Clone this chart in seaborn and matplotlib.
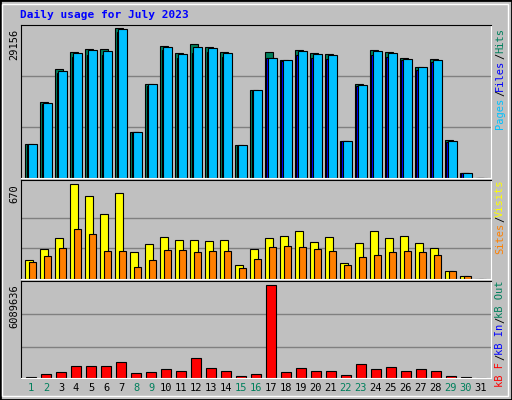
import matplotlib
matplotlib.use("Agg")
import matplotlib.pyplot as plt
import seaborn as sns
import numpy as np
from matplotlib.patches import Rectangle

days = list(range(1, 32))
hits = [6596,14709,21239,24405,24999,24999,29156,8971,18271,25593,24207,25988,25395,24405,6398,17084,
        24405,23020,24801,24207,24009,7190,18271,24801,24405,23416,21635,23218,7388,1055,0]
files = [6500,14300,20500,23600,23900,23900,28300,8900,17900,24900,23400,24300,24500,23500,6300,16900,
         23400,22800,23900,23400,23200,7100,17800,23900,23600,23000,21000,22500,7000,1000,0]
pages = [6596,14511,20843,24207,24801,24603,28958,8971,18271,25395,24009,25395,25197,24207,6398,17084,
         23416,23020,24603,24009,23811,7190,18073,24603,24207,23218,21635,23020,7190,1055,0]
visits = [133,213,293,670,590,460,605,191,249,300,278,278,271,278,97,213,293,307,336,264,300,111,256,343,
          293,307,256,220,60,24,0]
sites = [119,162,220,351,315,198,198,82,133,206,206,191,198,198,75,140,227,235,227,213,198,97,155,169,
         191,198,191,169,60,24,0]
kbytes = [89000,289000,422000,756000,756000,756000,1022000,356000,422000,556000,489000,1289000,622000,
          489000,156000,289000,6089636,422000,622000,489000,489000,222000,889000,556000,689000,489000,
          556000,489000,156000,89000,0]
weekend = {1, 2, 8, 9, 15, 16, 22, 23, 29, 30}

sns.set_style("white")
plt.rcParams['font.family'] = ['DejaVu Sans Mono']
W, H = 512, 400
fig = plt.figure(figsize=(5.12, 4.0), dpi=100)
fig.patch.set_facecolor('#C0C0C0')

def fx(x): return x / W
def fy(y): return 1 - y / H

fig.add_artist(Rectangle((0, 0), 1, 1, transform=fig.transFigure, fill=False, ec='black', lw=2))
fig.add_artist(Rectangle((fx(2), fy(396)), fx(506), 392 / H, transform=fig.transFigure, fill=False, ec='white', lw=1))

def mk(y0, y1):
    ax = fig.add_axes([fx(21), fy(y1), fx(470), (y1 - y0) / H])
    ax.set_facecolor('#C0C0C0')
    ax.set_xlim(0.333, 31.667)
    ax.set_xticks([]); ax.set_yticks([])
    ax.spines['top'].set_color('black')
    ax.spines['left'].set_color('black')
    ax.spines['right'].set_color('white')
    ax.spines['bottom'].set_color('white')
    return ax

d = np.array(days)
ax1 = mk(25, 178)
ax1.set_ylim(0, 29156 * 1.02)
for g in (0.333, 0.667):
    ax1.axhline(30000 * g * 0.99, color='#808080', lw=1, zorder=0)
ax1.bar(d - 0.4, hits, width=0.55, align='edge', color='#00805C', ec='black', lw=0.8)
ax1.bar(d - 0.3, files, width=0.5, align='edge', color='#0000FF', ec='black', lw=0.8)
ax1.bar(d - 0.17, pages, width=0.57, align='edge', color='#00C0FF', ec='black', lw=0.8)

ax2 = mk(180, 279)
ax2.set_ylim(0, 670 * 1.045)
for v in (670 * 0.645, 670 * 0.33):
    ax2.axhline(v, color='#808080', lw=1, zorder=0)
ax2.bar(d - 0.4, visits, width=0.55, align='edge', color='#FFFF00', ec='black', lw=0.8)
ax2.bar(d - 0.15, sites, width=0.5, align='edge', color='#FF8000', ec='black', lw=0.8)

ax3 = mk(281, 378)
ax3.set_ylim(0, 6089636 * 1.04)
for v in (6089636 * 0.686, 6089636 * 0.328):
    ax3.axhline(v, color='#808080', lw=1, zorder=0)
sns.barplot(x=d, y=kbytes, native_scale=True, width=0.66, color='#FF0000', saturation=1,
            edgecolor='black', linewidth=0.8, ax=ax3)
ax3.set_xlim(0.333, 31.667); ax3.set_xticks([]); ax3.set_yticks([])
ax3.set_xlabel(''); ax3.set_ylabel('')

for i in days:
    ax3.text(i, -0.05, str(i), transform=ax3.get_xaxis_transform(), ha='center', va='top',
             fontsize=7.5, color='#00805C' if i in weekend else 'black')

fig.text(fx(20), fy(15), 'Daily usage for July 2023', color='#0000FF', fontsize=8,
         fontweight='bold', va='center', ha='left')
for txt, y in (('29156', 29), ('670', 184), ('6089636', 284)):
    fig.text(fx(14), fy(y), txt, rotation=90, ha='center', va='top', fontsize=7.5, color='black')

def rlabel(parts, ytop, step):
    y = ytop
    for t, c in parts:
        fig.text(fx(500), fy(y), t, rotation=90, ha='center', va='top', fontsize=7.5, color=c)
        y += len(t) * step + 2

rlabel([('Hits', '#00805C'), ('/', 'black'), ('Files', '#0000FF'), ('/', 'black'), ('Pages', '#00C0FF')], 28, 5.6)
rlabel([('Visits', '#FFFF00'), ('/', 'black'), ('Sites', '#FF8000')], 180, 5.6)
rlabel([('kB Out', '#00805C'), ('/', 'black'), ('kB In', '#0000FF'), ('/', 'black'), ('kB F', '#FF0000')], 281, 5.6)

fig.savefig('out.png', dpi=100, facecolor=fig.get_facecolor())
